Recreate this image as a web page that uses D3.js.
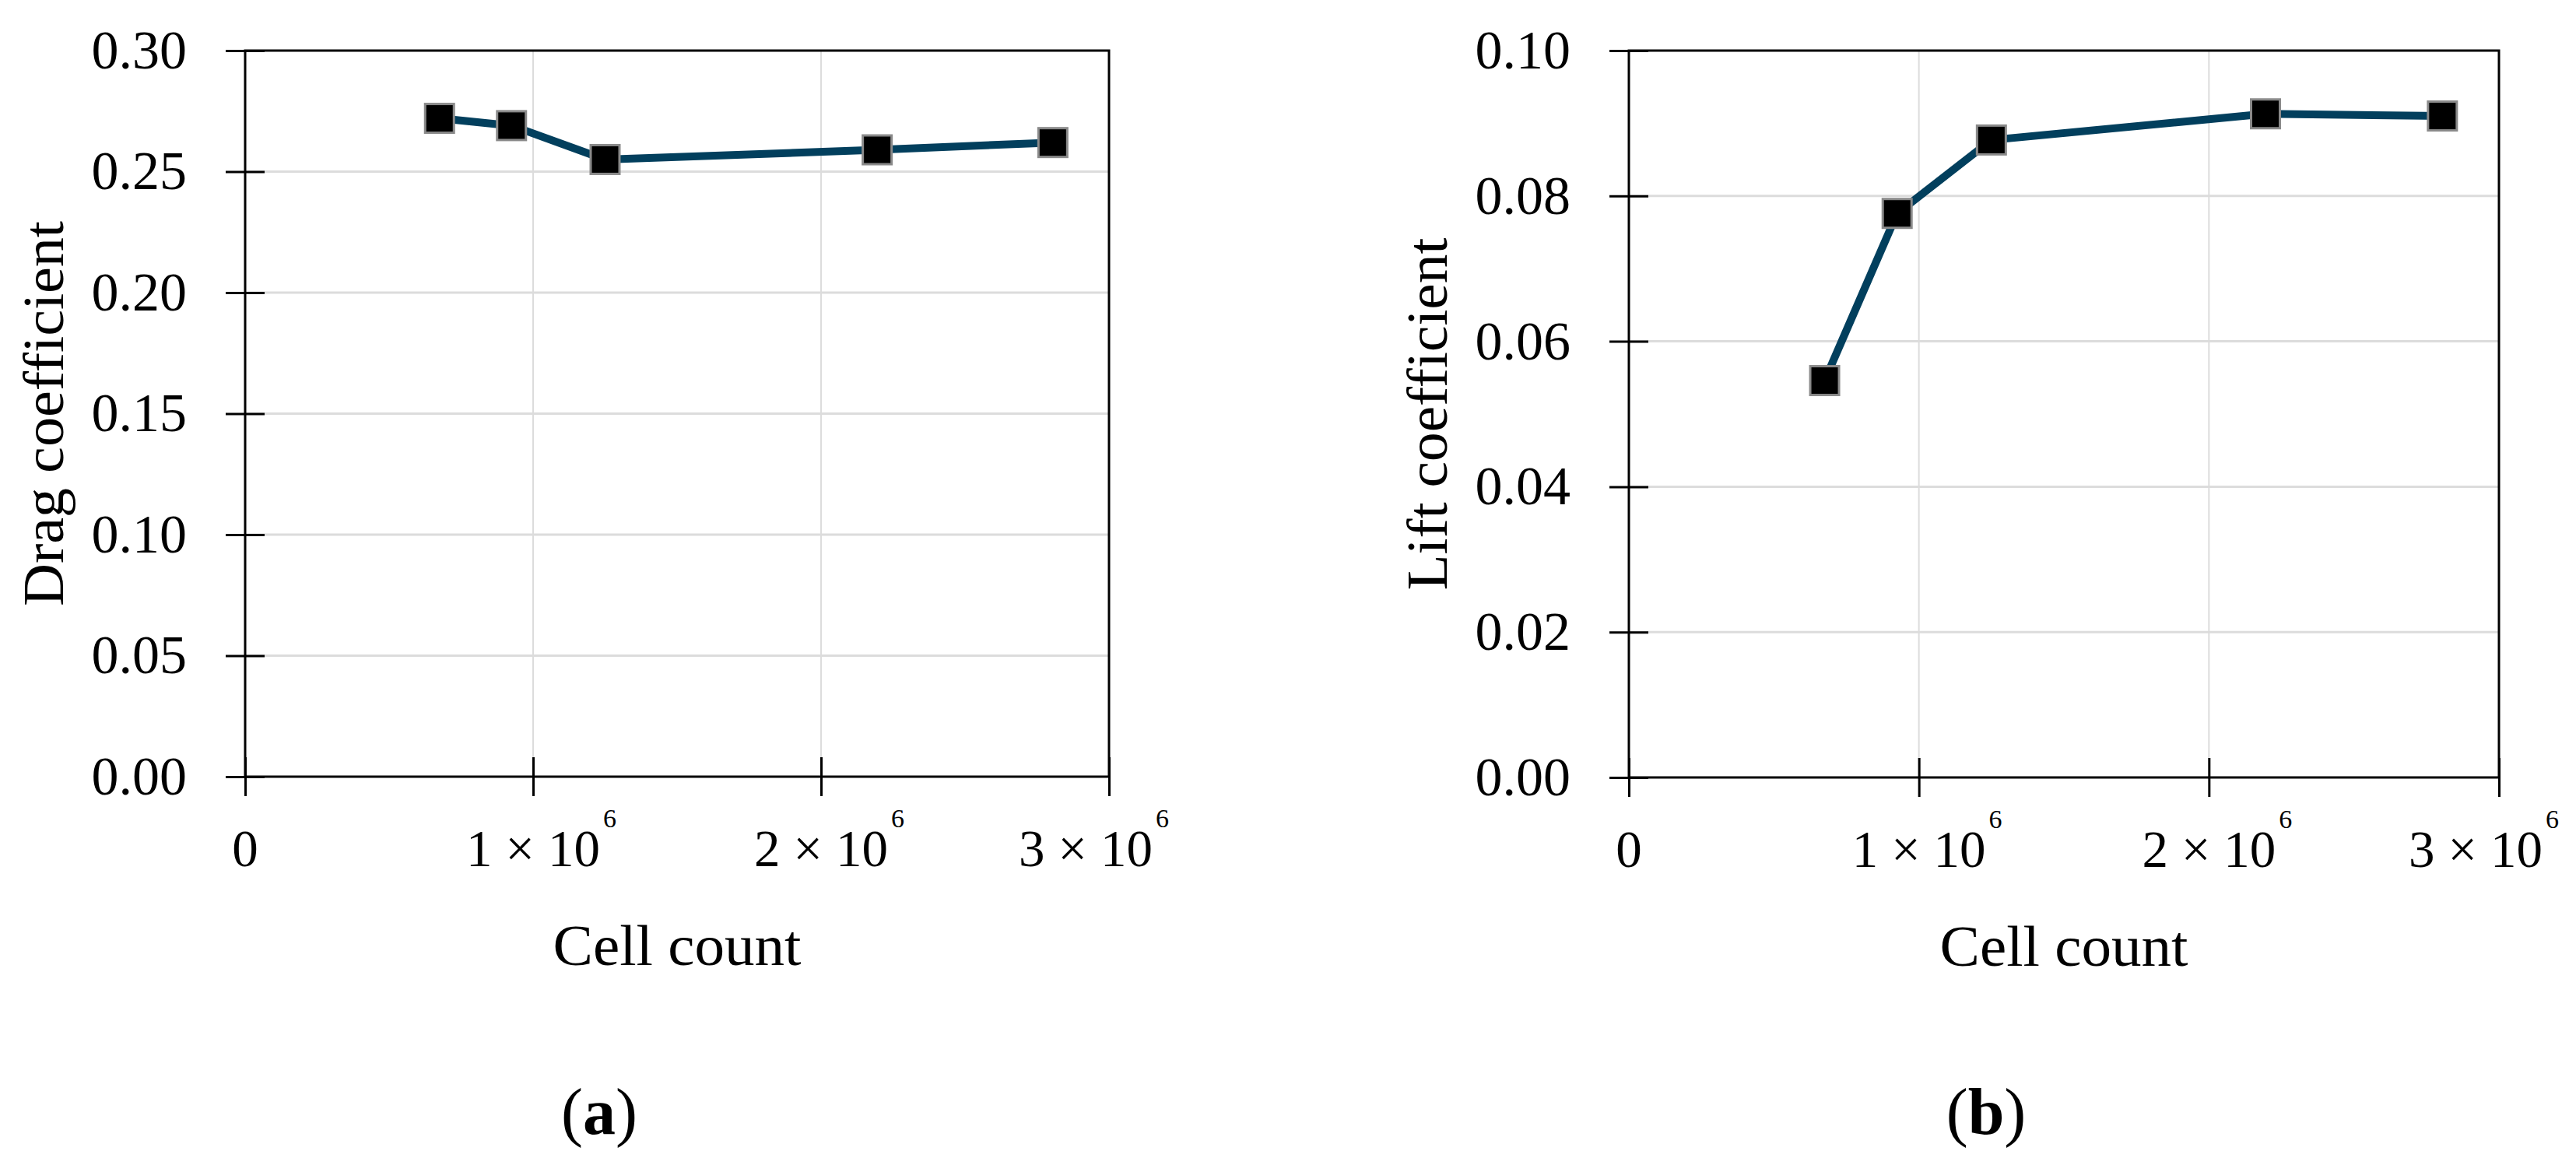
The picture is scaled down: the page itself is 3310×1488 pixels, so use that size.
<!DOCTYPE html>
<html>
<head>
<meta charset="utf-8">
<script src="https://cdn.jsdelivr.net/npm/d3@7"></script>
<style>
  html, body { margin: 0; padding: 0; background: #ffffff; }
  svg { display: block; }
  text { font-family: "Liberation Serif", "Times New Roman", serif; fill: #000; }
</style>
</head>
<body>
<svg id="chart" width="3310" height="1488"></svg>
<script>
// ---- data ----
const cellCounts = [675000, 925000, 1250000, 2195000, 2805000];
const dragCoef   = [0.272, 0.269, 0.255, 0.259, 0.262];
const liftCoef   = [0.0546, 0.0776, 0.0877, 0.0913, 0.0910];
const xTicks     = [0, 1000000, 2000000, 3000000];
const xTickMant  = ["0", "1 × 10", "2 × 10", "3 × 10"];
const xTickExp   = ["", "6", "6", "6"];
const dragTicks  = [0, 0.05, 0.10, 0.15, 0.20, 0.25, 0.30];
const liftTicks  = [0, 0.02, 0.04, 0.06, 0.08, 0.10];
const panelLabels = ["a", "b"];
const yTitles = ["Drag coefficient", "Lift coefficient"];
const xTitle = "Cell count";

const svg = d3.select("#chart");

const panels = [
  { left: 315, right: 1425, top: 65, bottom: 998, yDomain: [0, 0.30], yTicks: dragTicks,
    values: dragCoef, yTitle: yTitles[0], yTitleLen: 495, label: panelLabels[0] },
  { left: 2093, right: 3211, top: 65, bottom: 999, yDomain: [0, 0.10], yTicks: liftTicks,
    values: liftCoef, yTitle: yTitles[1], yTitleLen: 453, label: panelLabels[1] }
];

const lineColor = "#023f5d";
const gridColor = "#dcdcdc";
const tickLen = 25;

panels.forEach(p => {
  const x = d3.scaleLinear().domain([0, 3000000]).range([p.left, p.right]);
  const y = d3.scaleLinear().domain(p.yDomain).range([p.bottom, p.top]);
  const g = svg.append("g");

  // grid lines
  g.append("g").selectAll("line")
    .data(p.yTicks.slice(1, -1)).join("line")
    .attr("x1", p.left).attr("x2", p.right)
    .attr("y1", d => y(d)).attr("y2", d => y(d))
    .attr("stroke", gridColor).attr("stroke-width", 3);
  g.append("g").selectAll("line")
    .data(xTicks.slice(1, -1)).join("line")
    .attr("x1", d => x(d)).attr("x2", d => x(d))
    .attr("y1", p.top).attr("y2", p.bottom)
    .attr("stroke", gridColor).attr("stroke-width", 2);

  // frame
  g.append("rect")
    .attr("x", p.left).attr("y", p.top)
    .attr("width", p.right - p.left).attr("height", p.bottom - p.top)
    .attr("fill", "none").attr("stroke", "#000").attr("stroke-width", 3);

  // y axis
  const yAxis = d3.axisLeft(y).tickValues(p.yTicks)
    .tickFormat(d3.format(".2f"))
    .tickSize(tickLen).tickSizeOuter(0).tickPadding(50);
  const ya = g.append("g").attr("transform", `translate(${p.left},0)`).call(yAxis);
  ya.select(".domain").remove();
  ya.selectAll(".tick line").attr("x1", tickLen).attr("x2", -tickLen)
    .attr("stroke", "#000").attr("stroke-width", 3);
  ya.selectAll(".tick text").attr("font-size", 70)
    .attr("font-family", "Liberation Serif").attr("fill", "#000");

  // x axis
  const xAxis = d3.axisBottom(x).tickValues(xTicks).tickFormat("")
    .tickSize(tickLen).tickSizeOuter(0);
  const xa = g.append("g").attr("transform", `translate(0,${p.bottom})`).call(xAxis);
  xa.select(".domain").remove();
  xa.selectAll(".tick line").attr("y1", -tickLen).attr("y2", tickLen)
    .attr("stroke", "#000").attr("stroke-width", 3);
  xa.selectAll(".tick text").remove();

  // custom x tick labels: mantissa centred on tick (last one nudged left to fit)
  const baseY = p.bottom + 115;
  xTicks.forEach((d, i) => {
    const shift = (i === xTicks.length - 1) ? -30 : 0;
    const cx = x(d) + shift;
    const t = g.append("text")
      .attr("y", baseY)
      .attr("font-size", 67);
    const m = t.append("tspan").text(xTickMant[i]);
    if (xTickExp[i]) {
      t.append("tspan").attr("dx", 4).attr("dy", -50)
        .attr("font-size", 34).text(xTickExp[i]);
    }
    const w = m.node().getComputedTextLength();
    t.attr("x", cx - w / 2);
  });

  // x title
  g.append("text")
    .attr("x", (p.left + p.right) / 2)
    .attr("y", p.bottom + 242)
    .attr("text-anchor", "middle")
    .attr("font-size", 74)
    .attr("textLength", 319).attr("lengthAdjust", "spacingAndGlyphs")
    .text(xTitle);

  // y title
  const cy = (p.top + p.bottom) / 2;
  g.append("text")
    .attr("transform", `translate(${p.left - 234},${cy}) rotate(-90)`)
    .attr("text-anchor", "middle")
    .attr("font-size", 74)
    .attr("textLength", p.yTitleLen).attr("lengthAdjust", "spacingAndGlyphs")
    .text(p.yTitle);

  // series line
  const pts = cellCounts.map((c, i) => [c, p.values[i]]);
  g.append("path")
    .datum(pts)
    .attr("d", d3.line().x(d => x(d[0])).y(d => y(d[1])))
    .attr("fill", "none").attr("stroke", lineColor)
    .attr("stroke-width", 10).attr("stroke-linejoin", "round");

  // markers
  const ms = 37;
  g.append("g").selectAll("rect")
    .data(pts).join("rect")
    .attr("x", d => x(d[0]) - ms / 2).attr("y", d => y(d[1]) - ms / 2)
    .attr("width", ms).attr("height", ms)
    .attr("fill", "#000").attr("stroke", "#8a8a8a").attr("stroke-width", 3);

  // panel label
  const pl = g.append("text")
    .attr("x", (p.left + p.right) / 2 - 100)
    .attr("y", 1457)
    .attr("text-anchor", "middle")
    .attr("font-size", 84);
  pl.append("tspan").text("(");
  pl.append("tspan").attr("font-weight", "bold").text(p.label);
  pl.append("tspan").text(")");
});
</script>
</body>
</html>
